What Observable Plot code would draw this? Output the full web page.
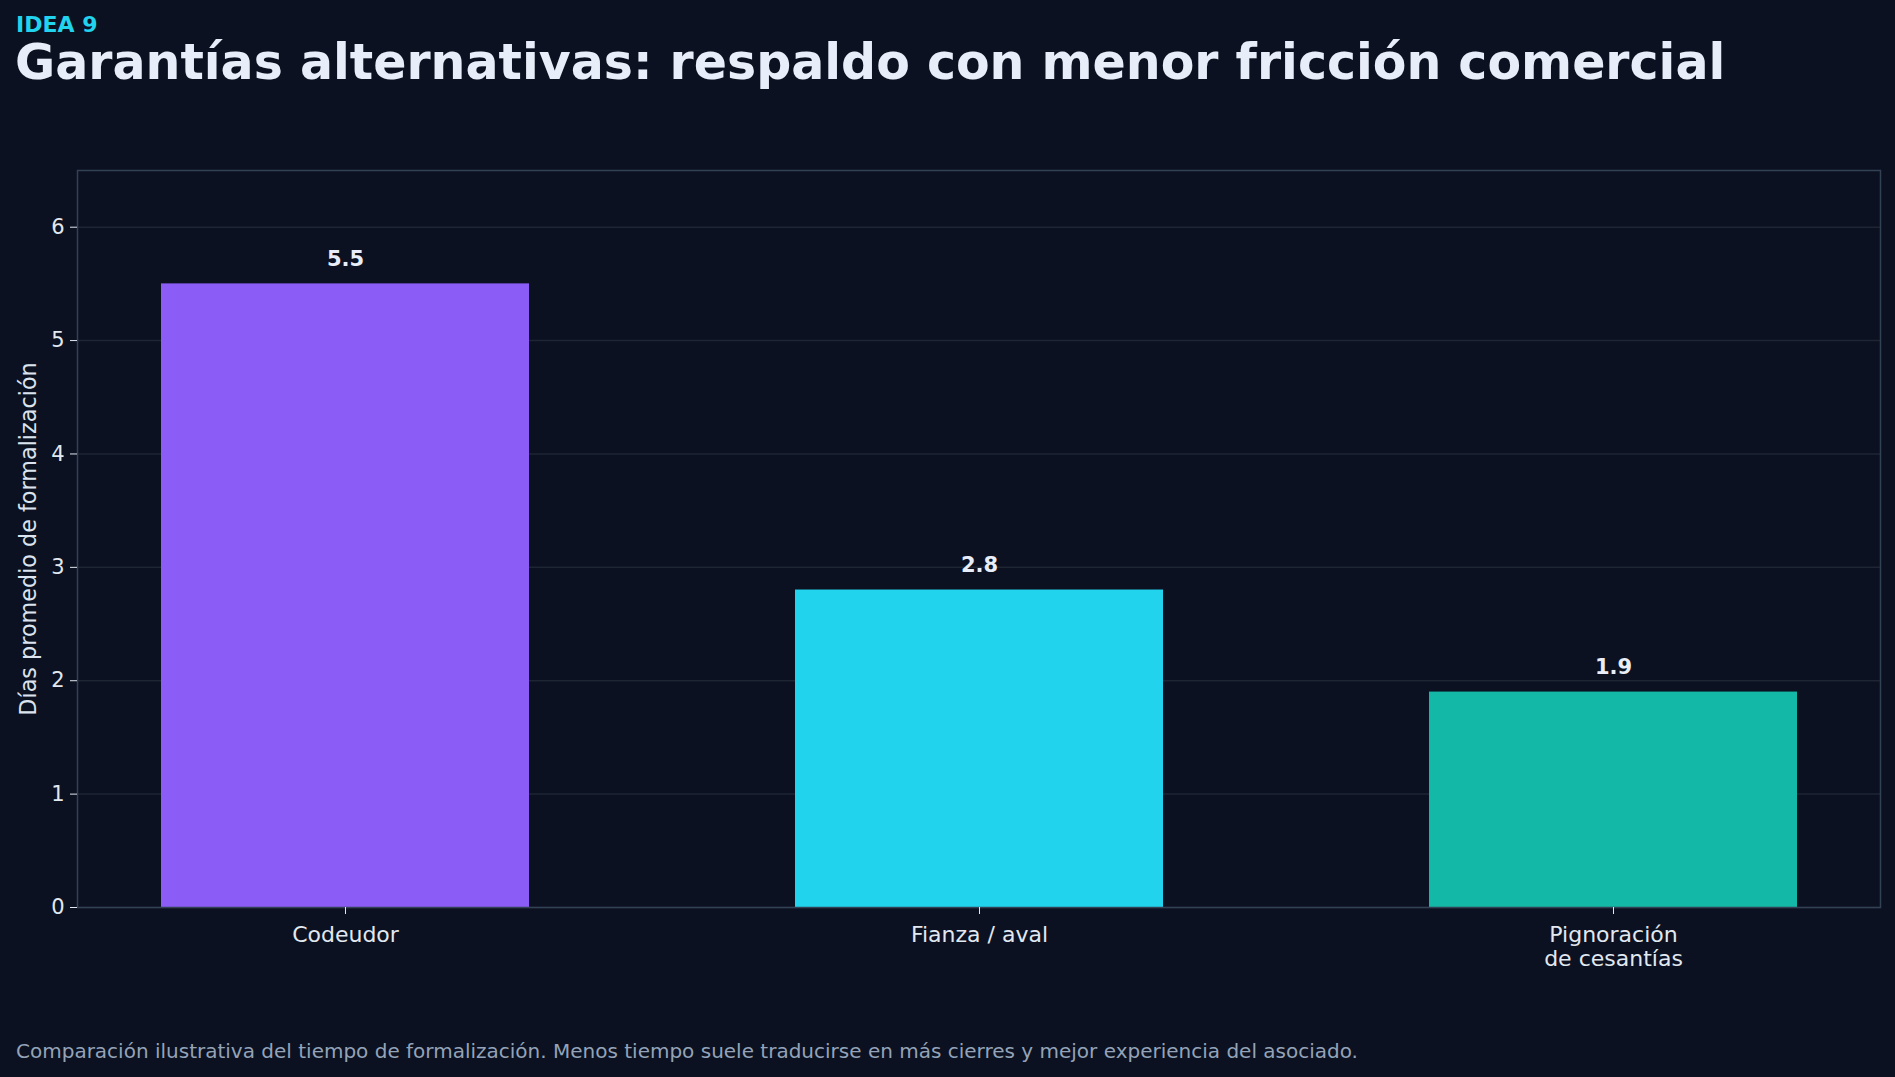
<!DOCTYPE html>
<html>
<head>
<meta charset="utf-8">
<script src="https://cdn.jsdelivr.net/npm/d3@7"></script>
<script src="https://cdn.jsdelivr.net/npm/@observablehq/plot@0.6"></script>
<style>
  html, body { margin: 0; padding: 0; background: #0b1120; }
  body { width: 1895px; height: 1077px; position: relative; overflow: hidden; font-family: "DejaVu Sans", sans-serif; }
  #kicker { position: absolute; left: 16px; top: 14px; font-size: 22px; font-weight: bold; color: #22d3ee; line-height: 1; }
  #title { position: absolute; left: 15px; top: 38px; font-size: 49px; font-weight: bold; color: #e8eef9; line-height: 1; white-space: nowrap; }
  #chart { position: absolute; left: 0; top: 140px; }
  #caption { position: absolute; left: 16px; top: 1039px; font-size: 20px; color: #94a3b8; white-space: nowrap; }
</style>
</head>
<body>
<div id="kicker">IDEA 9</div>
<div id="title">Garantías alternativas: respaldo con menor fricción comercial</div>
<div id="chart"></div>
<div id="caption">Comparación ilustrativa del tiempo de formalización. Menos tiempo suele traducirse en más cierres y mejor experiencia del asociado.</div>
<script>
const categories = ["Codeudor", "Fianza / aval", "Pignoración\nde cesantías"];
const values = [5.5, 2.8, 1.9];
const colors = ["#8b5cf6", "#22d3ee", "#14b8a6"];
const yTicks = [0, 1, 2, 3, 4, 5, 6];
const yLabel = "Días promedio de formalización";

const data = categories.map((c, i) => ({cat: c, value: values[i], color: colors[i]}));

const chart = Plot.plot({
  width: 1895,
  height: 847,
  marginLeft: 77,
  marginRight: 15,
  marginTop: 30,
  marginBottom: 80,
  style: {background: "transparent", color: "#e2e8f0", fontFamily: "DejaVu Sans, sans-serif", fontSize: "20px"},
  x: {domain: categories, paddingInner: 0.42, paddingOuter: 0.13, label: null},
  y: {domain: [0, 6.5], label: null},
  marks: [
    Plot.ruleY(yTicks, {stroke: "#1e2533", strokeWidth: 1.5}),
    Plot.barY(data, {x: "cat", y: "value", fill: "color"}),
    Plot.text(data, {x: "cat", y: "value", text: d => d.value.toFixed(1), dy: -18, lineAnchor: "bottom", fill: "#e8eef9", fontWeight: "bold", fontSize: 21}),
    Plot.frame({stroke: "#334155", strokeWidth: 1.5}),
    Plot.axisY({ticks: yTicks, tickFormat: d3.format("d"), tickSize: 7, tickPadding: 6, stroke: "#e2e8f0", fontSize: 21, fill: "#e2e8f0", label: null}),
    Plot.axisY({ticks: [], tickSize: 0, fontSize: 22.3, fill: "#dbe3ee",
      label: yLabel, labelAnchor: "center", labelArrow: "none", labelOffset: 57}),
    Plot.axisX({tickSize: 7, tickPadding: 10, stroke: "#e2e8f0", fontSize: 22, fill: "#e2e8f0", lineHeight: 1.1, label: null})
  ]
});
document.getElementById("chart").appendChild(chart);
</script>
</body>
</html>
